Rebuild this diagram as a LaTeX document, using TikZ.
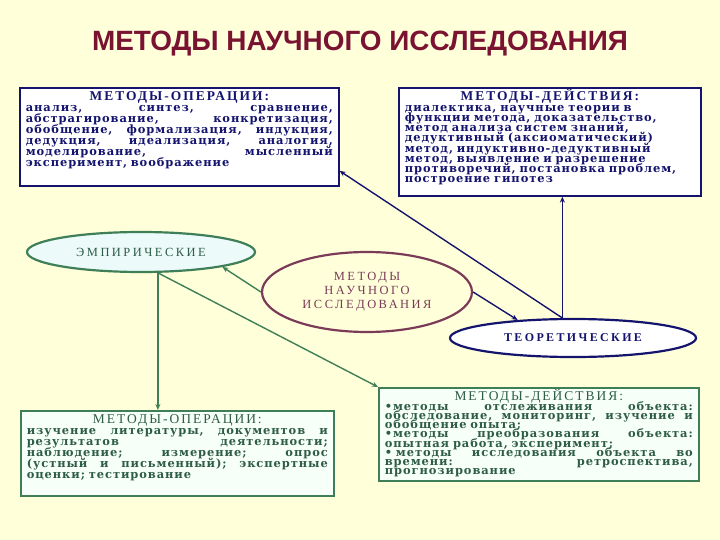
\documentclass[tikz,border=0pt]{standalone}
\usepackage{fontspec}
\setmainfont{Liberation Serif}
\newfontfamily\titlefont{Liberation Sans}
\newfontfamily\boxfont[LetterSpace=8]{DejaVu Serif}
\newfontfamily\headfont[LetterSpace=15]{Liberation Serif}
\newfontfamily\ovalfont[LetterSpace=20]{Liberation Serif}
\usetikzlibrary{arrows.meta,positioning,shapes.geometric}
\newcommand{\tightlines}{\lineskiplimit=-20pt\relax\lineskip=0pt\relax}
\definecolor{bgyellow}{HTML}{FFFFDA}
\definecolor{navy}{HTML}{14146E}
\definecolor{mgreen}{HTML}{3E7F58}
\definecolor{gtext}{HTML}{2E5C46}
\definecolor{maroon}{HTML}{7A1232}
\definecolor{oval}{HTML}{7A3A58}
\definecolor{mint}{HTML}{F6FFF8}
\definecolor{icecyan}{HTML}{ECFAFA}
\tikzset{box/.style={anchor=north west,align=left,inner xsep=6bp,inner ysep=3bp,text height=10bp,
    font=\fontsize{11.5}{#1}\selectfont\boxfont\bfseries,execute at begin node=\tightlines},
  box/.default=11,
  opbox/.style={box=#1,draw=navy,line width=1.6pt,fill=white,text=navy},
  opbox/.default=11,
  empbox/.style={box=#1,draw=mgreen,line width=1.6pt,fill=mint,text=gtext},
  empbox/.default=11,
  oval/.style={ellipse,inner sep=0pt,line width=2.2pt,font=\fontsize{12.5}{14}\selectfont\ovalfont},
  navyarr/.style={-{Stealth[length=6bp,width=5bp]},line width=1.4pt,navy},
  greenarr/.style={-{Stealth[length=6bp,width=5bp]},line width=1.4pt,mgreen}}
\newcommand{\boxhead}[1]{\hfill{\fontsize{13.5}{10}\selectfont\headfont #1}\hfill\null}
\begin{document}
\begin{tikzpicture}[x=1bp,y=-1bp,>=Stealth]
\path[use as bounding box,fill=bgyellow] (0,0) rectangle (720,540);
\node[font=\fontsize{28}{30}\selectfont\titlefont\bfseries,text=maroon] (title) at (360,44) {МЕТОДЫ НАУЧНОГО ИССЛЕДОВАНИЯ};
% theory boxes
\node[opbox,text width=307bp,text depth=82bp] (ops) at (19,87) {\boxhead{МЕТОДЫ-ОПЕРАЦИИ:}\\
анализ,\hfill синтез,\hfill сравнение,\\
абстрагирование,\hfill конкретизация,\\
обобщение,\hfill формализация,\hfill индукция,\\
дедукция,\hfill идеализация,\hfill аналогия,\\
моделирование,\hfill мысленный\\
эксперимент, воображение};
\node[opbox=10.3,text width=290bp,text depth=92bp] (acts) at (398,87) {\boxhead{МЕТОДЫ-ДЕЙСТВИЯ:}\\
диалектика, научные теории в\\
функции метода, доказательство,\\
метод анализа систем знаний,\\
дедуктивный (аксиоматический)\\
метод, индуктивно-дедуктивный\\
метод, выявление и разрешение\\
противоречий, постановка проблем,\\
построение гипотез};
% ovals
\node[oval,draw=mgreen,fill=icecyan,text=gtext,minimum width=228bp,minimum height=40bp] (emp) at (141,252) {ЭМПИРИЧЕСКИЕ};
\node[oval,draw=oval,fill=bgyellow,text=oval,minimum width=210bp,minimum height=80bp,align=center] (main) at (367,292) {МЕТОДЫ\\НАУЧНОГО\\ИССЛЕДОВАНИЯ};
\node[oval,draw=navy,fill=white,text=navy,minimum width=246bp,minimum height=38bp,font=\fontsize{12}{12}\selectfont\ovalfont\bfseries] (theo) at (573,338) {ТЕОРЕТИЧЕСКИЕ};
% empirical boxes
\node[empbox,text width=301bp,text depth=69bp] (emops) at (20,410) {\boxhead{\mdseries МЕТОДЫ-ОПЕРАЦИИ:}\\
изучение\hfill литературы,\hfill документов\hfill и\\
результатов\hfill деятельности;\\
наблюдение;\hfill измерение;\hfill опрос\\
(устный\hfill и\hfill письменный);\hfill экспертные\\
оценки; тестирование};
\node[empbox=9.3,text width=308bp,text depth=77bp] (emacts) at (378,387) {\boxhead{\mdseries МЕТОДЫ-ДЕЙСТВИЯ:}\\
•методы\hfill отслеживания\hfill объекта:\\
обследование,\hfill мониторинг,\hfill изучение\hfill и\\
обобщение опыта;\\
•методы\hfill преобразования\hfill объекта:\\
опытная работа, эксперимент;\\
• методы\hfill исследования\hfill объекта\hfill во\\
времени:\hfill ретроспектива,\\
прогнозирование};
% connectors
\draw[greenarr] (main.west) -- (emp.south east);
\draw[navyarr] (main.east) -- (theo.162);
\draw[navyarr] (theo.118) -- (theo.118 |- acts.south);
\draw[navyarr] (theo.118) -- (ops.-12);
\draw[greenarr] (emp.-51) -- (emp.-51 |- emops.north);
\draw[greenarr] (emp.-51) -- (emacts.north west);
\end{tikzpicture}
\end{document}
